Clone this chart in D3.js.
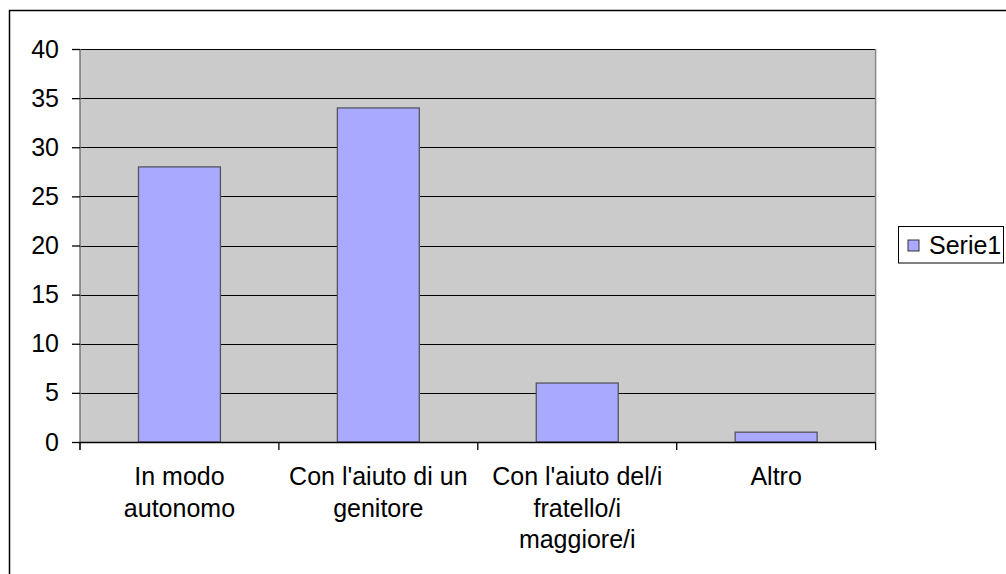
<!DOCTYPE html>
<html>
<head>
<meta charset="utf-8">
<script src="https://cdn.jsdelivr.net/npm/d3@7"></script>
<style>
html,body{margin:0;padding:0;background:#fff;}
svg{display:block;}
text{font-family:"Liberation Sans",Arial,sans-serif;fill:#000;}
</style>
</head>
<body>
<svg id="chart" width="1006" height="574"></svg>
<script>
const categories = ["In modo\nautonomo", "Con l'aiuto di un\ngenitore", "Con l'aiuto del/i\nfratello/i\nmaggiore/i", "Altro"];
const values = [28, 34, 6, 1];
const yTicks = [0, 5, 10, 15, 20, 25, 30, 35, 40];
const seriesName = "Serie1";

(function(){
const svg = d3.select("#chart");
const pL = 80, pR = 875.6, pT = 49, pB = 442;
const fs = 25;

// outer border (cropped on right/bottom)
svg.append("path").attr("d", `M9.5,600 V10.5 H1010`).attr("fill","none").attr("stroke","#000").attr("stroke-width",1.5);

const y = d3.scaleLinear().domain([0, 40]).range([pB, pT]);
const x = d3.scaleBand().domain(categories).range([pL, pR]).padding(0);

// plot background
svg.append("rect").attr("x", pL).attr("y", pT).attr("width", pR-pL).attr("height", pB-pT).attr("fill", "#cbcbcb");

// gridlines
svg.append("g").selectAll("line").data(yTicks.filter(d=>d>0)).join("line")
  .attr("x1", pL).attr("x2", pR).attr("y1", d=>Math.round(y(d))+0.5).attr("y2", d=>Math.round(y(d))+0.5)
  .attr("stroke", "#000").attr("stroke-width", 1);

// bars
const bw = x.bandwidth()*0.412;
svg.append("g").selectAll("rect").data(values).join("rect")
  .attr("x", (d,i)=>x(categories[i]) + (x.bandwidth()-bw)/2)
  .attr("y", d=>y(d))
  .attr("width", bw)
  .attr("height", d=>y(0)-y(d))
  .attr("fill", "#a9a9ff").attr("stroke", "#555560").attr("stroke-width", 1.3);

// plot side borders
svg.append("line").attr("x1", pL).attr("x2", pL).attr("y1", pT).attr("y2", pB+8).attr("stroke","#777").attr("stroke-width",1.5);
svg.append("line").attr("x1", pR).attr("x2", pR).attr("y1", pT).attr("y2", pB).attr("stroke","#888").attr("stroke-width",1.5);

// y axis
const yAxis = d3.axisLeft(y).tickValues(yTicks).tickSize(8).tickPadding(13).tickFormat(d3.format("d"));
const gy = svg.append("g").attr("transform", `translate(${pL},0)`).call(yAxis);
gy.select(".domain").remove();
gy.selectAll(".tick line").attr("stroke","#000").attr("stroke-width",1.3);
gy.selectAll(".tick text").attr("font-size", fs).attr("font-family", "Liberation Sans, Arial, sans-serif").attr("fill","#000");

// x axis
const gx = svg.append("g").attr("transform", `translate(0,${pB})`);
gx.append("line").attr("x1", pL).attr("x2", pR).attr("y1", 0.5).attr("y2", 0.5).attr("stroke","#000").attr("stroke-width",1.5);
const bounds = categories.map(c=>x(c)).concat([pR]);
gx.selectAll("line.tk").data(bounds).join("line").attr("class","tk")
  .attr("x1", d=>d).attr("x2", d=>d).attr("y1", 0).attr("y2", 8).attr("stroke","#000").attr("stroke-width",1.3);

categories.forEach(c=>{
  const lines = c.split("\n");
  const t = gx.append("text").attr("text-anchor","middle").attr("font-size",fs);
  lines.forEach((ln,j)=>{
    t.append("tspan").attr("x", x(c)+x.bandwidth()/2).attr("y", 43 + j*31.5).text(ln);
  });
});

// legend
const lg = svg.append("g");
lg.append("rect").attr("x", 898.5).attr("y", 226.5).attr("width", 105).attr("height", 36.5).attr("fill","#fff").attr("stroke","#000").attr("stroke-width",1);
lg.append("rect").attr("x", 908).attr("y", 240).attr("width", 11).attr("height", 11).attr("fill","#a9a9ff").attr("stroke","#333").attr("stroke-width",1);
lg.append("text").attr("x", 929).attr("y", 254).attr("font-size", fs).text(seriesName);
})();
</script>
</body>
</html>
